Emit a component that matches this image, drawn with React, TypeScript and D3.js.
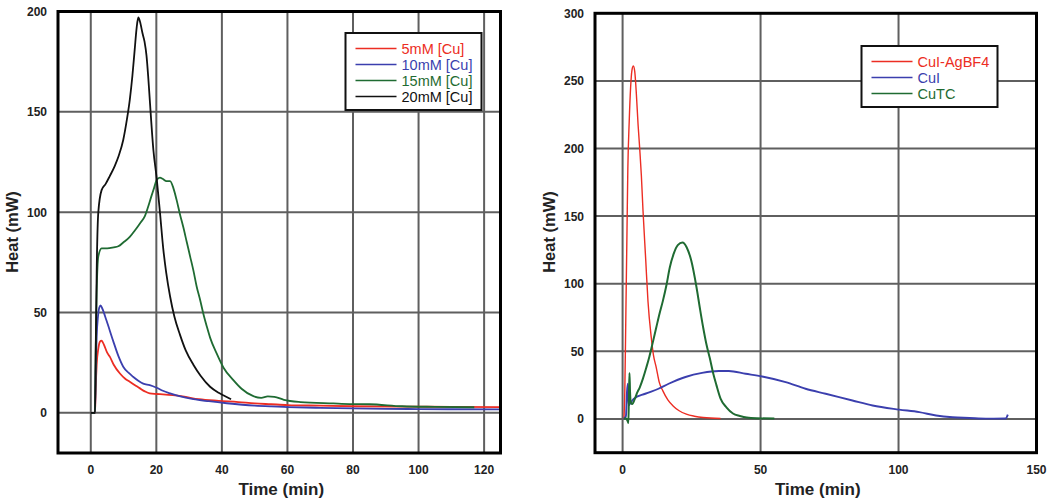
import React from "react";
import * as d3 from "d3";

type Pt = [number, number];

// ---------- Left panel data: time (min), heat (mW) ----------
const cu5mM: Pt[] = [[0,0],[1.3,0],[1.5,12],[1.8,24],[2.3,32],[2.8,35.5],[3.3,36],[4,34],[5,30],[5.8,28],[7,24],[8.9,19.6],[10.5,17],[11.9,15.5],[13.5,13.8],[15,12.2],[16.5,10.7],[18,9.7],[20,9.4],[22,9.2],[25,8.8],[28,8.2],[33,6.8],[39,6],[45,5.4],[50,4.7],[55,4.3],[60,3.9],[70,3.6],[80,3.3],[95,3.1],[110,3],[125,2.9]];
const cu10mM: Pt[] = [[0,0],[1.3,0],[1.5,20],[1.8,38],[2.2,48],[2.6,52.5],[3,53.5],[3.5,52],[4.8,46],[6.8,36],[8.5,28],[9.9,23],[11.5,20],[12.9,18],[14.5,16],[16,14.6],[18,13.8],[20.1,12.5],[22,11],[24.2,9.7],[27,8.3],[31.3,6.8],[36,5.8],[41.5,4.8],[50,3.6],[55,3.2],[60,2.9],[70,2.5],[80,2.2],[90,2],[100,1.9],[110,1.8],[125,1.7]];
const cu15mM: Pt[] = [[0,0],[1.3,0],[1.5,30],[1.8,60],[2.3,78],[3.3,82],[5,82],[7,82.5],[8.4,83],[10,85],[11.9,87.7],[13.5,91],[15,94.4],[16.5,98],[17.5,102.7],[18.5,108],[19.3,112],[20.1,116],[21.1,117.2],[22,116.5],[23.1,115.5],[24.2,115.5],[25.2,112],[26.2,106],[27.2,99],[28.2,92.7],[29.3,85],[30.3,78],[31.3,71],[32.3,63],[33.4,56],[34.4,49],[35.4,43],[36.4,37.5],[38.4,29.6],[40.5,22.5],[43.5,16.3],[46,12],[49.6,8.3],[52,7.5],[54,8.2],[56,8],[58.9,6.5],[64,5.4],[74,4.7],[79,4.4],[85,4.3],[95,3.3],[105,3],[117,2.8]];
const cu20mM: Pt[] = [[0,0],[1.3,0],[1.5,30],[1.8,70],[2.3,100],[3.3,111],[4.5,114],[5.8,118],[7.3,123],[8.5,128],[9.9,136],[11,146],[11.9,156],[12.7,168],[13.4,181],[14,192],[14.5,197],[15,195],[15.8,189],[16.4,185],[17,178],[17.5,168],[18,156],[19.1,131],[20.1,117],[21.1,100],[22.1,82],[23,70],[24.2,58],[25.5,48],[27.2,39],[29,31],[31.3,24],[33.5,18.5],[36.4,13],[39,10],[41,8.3],[42.8,6.8]];

// ---------- Right panel data ----------
const cuiAgBF4: Pt[] = [[0.5,0],[0.8,20],[1.2,80],[1.6,140],[1.9,185],[2.4,220],[2.9,245],[3.4,258],[3.9,261],[4.4,257],[5,240],[5.6,218],[6.2,200],[6.8,180],[7.4,154],[8.4,117],[9.2,87],[10.4,60],[11.2,47],[12.2,38],[13.3,27],[14.6,20.7],[16.4,14],[18.3,9.6],[20.5,6],[23.1,3.5],[26,2],[29.2,1],[35.5,0.3]];
const cuI: Pt[] = [[0.4,0],[1.2,2],[1.6,20],[1.9,26],[2.2,10],[2.6,11],[4,14.8],[8.2,18.6],[13,22.3],[16.7,26],[22.8,31],[28.8,34],[34.9,35.4],[38.5,35.4],[44.6,33.4],[50.6,31.4],[59.1,27.2],[66.3,22.3],[73.6,18.6],[83.3,13.6],[90.6,9.9],[100.2,6.9],[107.5,5],[113.6,2.5],[119.6,1.2],[125.7,0.7],[131.7,0.2],[138.8,0.3],[139.6,3.2]];
const cuTC: Pt[] = [[0.5,0],[1.2,0.5],[1.8,-1.5],[2.1,-3],[2.3,18],[2.5,34],[2.7,20],[3,12],[3.5,11],[4.4,14.6],[5.2,19],[6.2,23.2],[7.4,30],[8.6,38],[9.7,46],[10.8,55.3],[12.2,67.6],[13.4,78],[14.6,87.3],[15.9,99],[17.1,112],[18.5,122],[20,128.5],[21.7,130.5],[23.2,127],[24.9,117],[26.8,97.2],[28,82],[29.2,67.6],[30.4,55],[31.6,45],[32.8,34],[34,25],[35.5,15],[37.7,8.4],[40,4],[42.5,2.2],[45,1],[48.5,0.5],[55,0.3]];

// ---------- Ticks / labels ----------
const leftXTicks = [0, 20, 40, 60, 80, 100, 120];
const leftYTicks = [0, 50, 100, 150, 200];
const rightXTicks = [0, 50, 100, 150];
const rightYTicks = [0, 50, 100, 150, 200, 250, 300];
const leftNames = ["5mM [Cu]", "10mM [Cu]", "15mM [Cu]", "20mM [Cu]"];
const rightNames = ["CuI-AgBF4", "CuI", "CuTC"];

const RED = "#ec2d23";
const BLUE = "#3b3fae";
const GREEN = "#1f6b32";
const BLACK = "#111111";
const GRID = "#5f5f5f";
const FONT = "'Liberation Sans', Arial, Helvetica, sans-serif";

type SeriesSpec = { data: Pt[]; color: string; width: number; name: string };

function Panel(props: {
  xDomain: [number, number];
  yDomain: [number, number];
  left: number; right: number; top: number; bottom: number;
  xTicks: number[]; yTicks: number[];
  series: SeriesSpec[];
  legend: { x: number; y: number; w: number; h: number; row0: number; rowH: number };
}) {
  const { xDomain, yDomain, left, right, top, bottom, xTicks, yTicks, series, legend } = props;
  const x = d3.scaleLinear().domain(xDomain).range([left, right]);
  const y = d3.scaleLinear().domain(yDomain).range([bottom, top]);
  const line = d3.line<Pt>().x(d => x(d[0])).y(d => y(d[1])).curve(d3.curveMonotoneX);
  const clipId = `clip-${Math.round(left)}`;
  return (
    <g>
      <defs>
        <clipPath id={clipId}>
          <rect x={left} y={top} width={right - left} height={bottom - top} />
        </clipPath>
      </defs>
      <rect x={left} y={top} width={right - left} height={bottom - top} fill="#fff" />
      {xTicks.filter(t => t > xDomain[0] && t < xDomain[1]).map(t => (
        <line key={"gx" + t} x1={x(t)} x2={x(t)} y1={top} y2={bottom} stroke={GRID} strokeWidth={2} />
      ))}
      {yTicks.filter(t => t > yDomain[0] && t < yDomain[1]).map(t => (
        <line key={"gy" + t} x1={left} x2={right} y1={y(t)} y2={y(t)} stroke={GRID} strokeWidth={2} />
      ))}
      <g clipPath={`url(#${clipId})`}>
        {series.map(s => (
          <path key={s.name} d={line(s.data) || ""} fill="none" stroke={s.color} strokeWidth={s.width} strokeLinejoin="round" />
        ))}
      </g>
      <rect x={legend.x} y={legend.y} width={legend.w} height={legend.h} fill="#fff" stroke="#111" strokeWidth={2} />
      {series.map((s, i) => {
        const ry = legend.row0 + i * legend.rowH;
        return (
          <g key={"lg" + s.name}>
            <line x1={legend.x + 10} x2={legend.x + 51} y1={ry} y2={ry} stroke={s.color} strokeWidth={1.6} />
            <text x={legend.x + 56} y={ry + 5} fill={s.color} fontSize={14.5} fontFamily={FONT}>{s.name}</text>
          </g>
        );
      })}
      <rect x={left} y={top} width={right - left} height={bottom - top} fill="none" stroke="#000" strokeWidth={3} />
      {yTicks.map(t => (
        <text key={"ty" + t} x={left - 11} y={y(t) + 4.5} textAnchor="end" fontSize={12} fontWeight="bold" fontFamily={FONT} fill="#222">{t}</text>
      ))}
      {xTicks.map(t => (
        <text key={"tx" + t} x={x(t)} y={bottom + 21} textAnchor="middle" fontSize={12} fontWeight="bold" fontFamily={FONT} fill="#222">{t}</text>
      ))}
      <text x={(left + right) / 2 + 2} y={bottom + 42} textAnchor="middle" fontSize={17} fontWeight="bold" fontFamily={FONT} fill="#222">Time (min)</text>
      <text transform={`translate(${left - 40},${232}) rotate(-90)`} textAnchor="middle" fontSize={16.5} fontWeight="bold" fontFamily={FONT} fill="#222">Heat (mW)</text>
    </g>
  );
}

export default function App() {
  const leftSeries: SeriesSpec[] = [
    { data: cu5mM, color: RED, width: 1.8, name: leftNames[0] },
    { data: cu10mM, color: BLUE, width: 1.8, name: leftNames[1] },
    { data: cu15mM, color: GREEN, width: 1.8, name: leftNames[2] },
    { data: cu20mM, color: BLACK, width: 1.8, name: leftNames[3] },
  ];
  const rightSeries: SeriesSpec[] = [
    { data: cuiAgBF4, color: RED, width: 1.4, name: rightNames[0] },
    { data: cuI, color: BLUE, width: 1.9, name: rightNames[1] },
    { data: cuTC, color: GREEN, width: 2, name: rightNames[2] },
  ];
  return (
    <svg width={1050} height={504} style={{ position: "absolute", left: 0, top: 0, background: "#fff" }}>
      <rect x={0} y={0} width={1050} height={504} fill="#fff" />
      <Panel
        xDomain={[-10, 125]} yDomain={[-20, 200]}
        left={58} right={500.5} top={11.5} bottom={453}
        xTicks={leftXTicks} yTicks={leftYTicks}
        series={leftSeries}
        legend={{ x: 345.5, y: 33, w: 136, h: 77, row0: 48.5, rowH: 16 }}
      />
      <Panel
        xDomain={[-10, 150]} yDomain={[-25, 300]}
        left={595} right={1036.5} top={13.3} bottom={452.7}
        xTicks={rightXTicks} yTicks={rightYTicks}
        series={rightSeries}
        legend={{ x: 861.5, y: 46, w: 136, h: 61, row0: 61.5, rowH: 16 }}
      />
    </svg>
  );
}
